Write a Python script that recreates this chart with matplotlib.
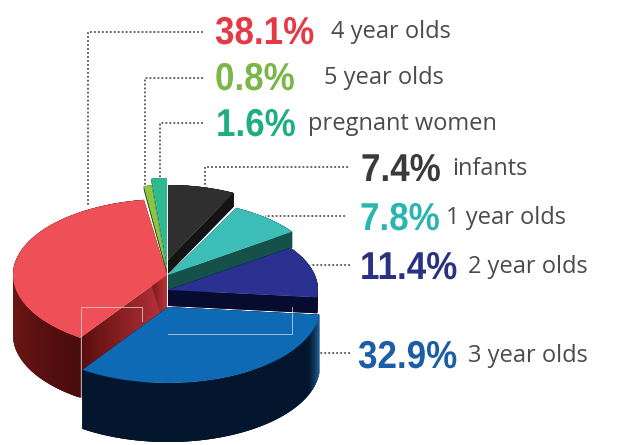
import numpy as np
import matplotlib
matplotlib.use("Agg")
import matplotlib.pyplot as plt
from matplotlib.colors import to_rgb
from matplotlib.patches import Polygon
from matplotlib.patheffects import AbstractPathEffect
from matplotlib.transforms import Affine2D

groups = ["infants", "1 year olds", "2 year olds", "3 year olds",
          "4 year olds", "5 year olds", "pregnant women"]
shares = [7.4, 7.8, 11.4, 32.9, 38.1, 0.8, 1.6]
pct_labels = ["7.4%", "7.8%", "11.4%", "32.9%", "38.1%", "0.8%", "1.6%"]

top_colors = ["#2f2f30", "#3dbdb7", "#2b3190", "#0f6ab5", "#ef4f56", "#8cc63f", "#2fb98f"]
text_colors = ["#3a3a3c", "#2bb5b0", "#2a3183", "#1b5ea6", "#e63946", "#7ab648", "#1fae82"]
# wall colour along the arc, start -> end
wall_colors = [("#141414", "#141414"), ("#15504a", "#15504a"), ("#070b30", "#070b30"),
               ("#1f6aa5", "#04162e"), ("#4a0c0c", "#6a1414"), ("#3f6a1c", "#3f6a1c"),
               ("#157a5c", "#157a5c")]
# cut face colour, tip -> outer edge
cut_colors = [("#141414", "#141414"), ("#15504a", "#15504a"), ("#070b30", "#070b30"),
              ("#04162e", "#04162e"), ("#bb333b", "#560c0c"), ("#2f5216", "#2f5216"),
              ("#157a5c", "#157a5c")]

# exploded pieces: centre x, centre y, rx, ry, depth
pieces = [(168, 260, 146, 75, 14), (168, 275, 152, 75, 16), (168, 290, 150, 73, 16),
          (168, 307, 152, 76, 59), (167, 275, 154, 76, 60), (167, 271, 154, 86, 4),
          (167, 264, 154, 86, 4)]
draw_order = [6, 5, 0, 1, 2, 4, 3]

# (x pct, x label, y)
label_pos = {4: (215, 331, 34), 5: (215, 324, 80), 6: (216, 308, 126),
             0: (361, 452, 171), 1: (360, 446, 220), 2: (360, 468, 269), 3: (358, 468, 358)}

# dotted leaders
leaders = [[(203, 32), (88, 32), (88, 207)],
           [(203, 78), (145, 78), (145, 186)],
           [(203, 123), (160, 123), (160, 178)],
           [(348, 167), (205, 167), (205, 186)],
           [(345, 216), (265, 216)],
           [(350, 265), (310, 265)],
           [(350, 353), (320, 353)]]

# pale crop-like lines over the pie
pale_lines = [[(81, 400), (81, 307), (142, 307), (142, 321)],
              [(168, 334), (292, 334), (292, 307)]]


# the original percent font is condensed, squeeze the glyphs sideways
class Squeeze(AbstractPathEffect):
    def __init__(self, x0, factor):
        super().__init__()
        self.x0 = x0
        self.factor = factor

    def draw_path(self, renderer, gc, tpath, affine, rgbFace=None):
        t = affine + Affine2D().translate(-self.x0, 0).scale(self.factor, 1).translate(self.x0, 0)
        renderer.draw_path(gc, tpath, t, rgbFace)


def mix(c1, c2, f):
    a, b = np.array(to_rgb(c1)), np.array(to_rgb(c2))
    return tuple(a + (b - a) * f)


def arc(piece, t1, t2, n):
    cx, cy, rx, ry, _ = piece
    t = np.radians(np.linspace(t1, t2, n))
    return cx + rx * np.sin(t), cy - ry * np.cos(t)


fig = plt.figure(figsize=(6.21, 4.45), dpi=100)
ax = fig.add_axes([0, 0, 1, 1])
ax.set_xlim(0, 621)
ax.set_ylim(445, 0)
ax.axis("off")

edges = np.concatenate([[0], np.cumsum(shares) / np.sum(shares) * 360])

for i in draw_order:
    p = pieces[i]
    cx, cy, rx, ry, d = p
    t1, t2 = edges[i], edges[i + 1]

    # cut faces
    for t in (t1, t2):
        x, y = arc(p, t, t, 1)
        for k in range(40):
            f1, f2 = k / 40, min((k + 2) / 40, 1)
            xs = [cx + (x[0] - cx) * f1, cx + (x[0] - cx) * f2]
            ys = [cy + (y[0] - cy) * f1, cy + (y[0] - cy) * f2]
            ax.add_patch(Polygon([(xs[0], ys[0]), (xs[1], ys[1]), (xs[1], ys[1] + d), (xs[0], ys[0] + d)],
                                 fc=mix(*cut_colors[i], f1), ec="none"))

    # outer wall, strips overlap so no seams show
    n = max(int(t2 - t1) * 2, 4)
    x, y = arc(p, t1, t2, n)
    for k in range(n - 1):
        f = k / (n - 1)
        if i == 3:
            f = min(f / 0.14, 1)
        elif i == 4:
            f = min(f / 0.3, 1)
        k2 = min(k + 3, n - 1)
        xs = np.r_[x[k:k2 + 1], x[k:k2 + 1][::-1]]
        ys = np.r_[y[k:k2 + 1], y[k:k2 + 1][::-1] + d]
        ax.add_patch(Polygon(np.column_stack([xs, ys]), fc=mix(*wall_colors[i], f), ec="none"))

    # top face
    x, y = arc(p, t1, t2, n * 2)
    ax.add_patch(Polygon(np.column_stack([np.r_[cx, x], np.r_[cy, y]]), fc=top_colors[i], ec="none"))

for line in pale_lines:
    xs, ys = zip(*line)
    ax.plot(xs, ys, color="#d8d8d8", lw=0.7, alpha=0.75)

for line in leaders:
    xs, ys = zip(*line)
    ax.plot(xs, ys, color="#555555", lw=1.3, linestyle=(0, (1, 1.2)))

for i, (xp, xl, y) in label_pos.items():
    tx = ax.text(xp, y, pct_labels[i], color=text_colors[i], fontsize=28, fontweight="bold",
                 family="Liberation Sans", va="center", ha="left")
    tx.set_path_effects([Squeeze(xp, 0.9)])
    ax.text(xl, y - 2, groups[i], color="#4a4a4f", fontsize=17, family="Open Sans", va="center", ha="left")

fig.savefig("out.png", dpi=100)
